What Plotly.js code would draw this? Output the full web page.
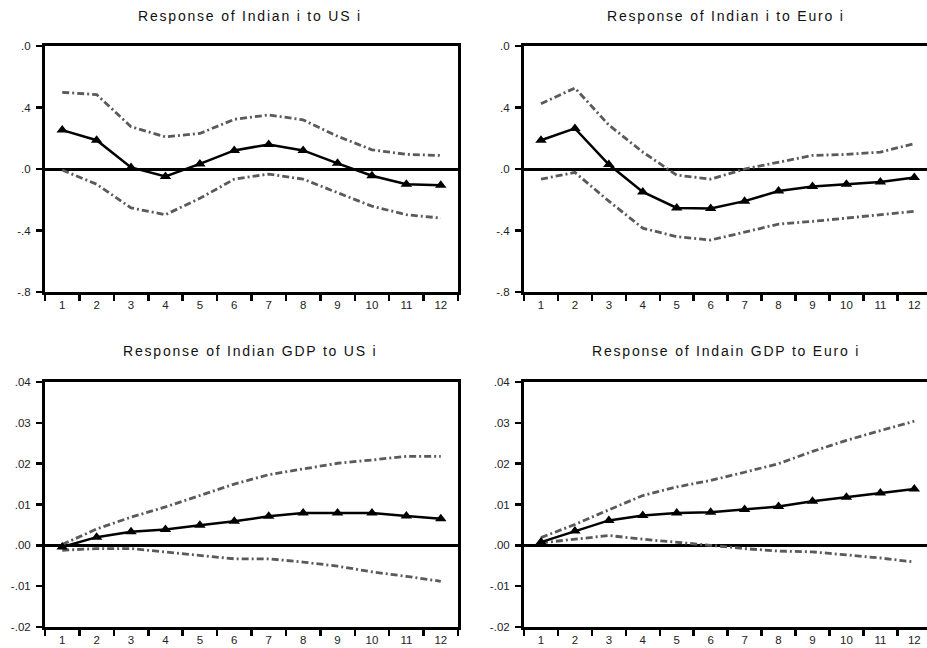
<!DOCTYPE html>
<html>
<head>
<meta charset="utf-8">
<script src="https://cdn.plot.ly/plotly-3.0.1.min.js"></script>
<style>html,body{margin:0;padding:0;background:#fff;}#chart{width:927px;height:648px;}</style>
</head>
<body>
<div id="chart"></div>
<script>
// Periods
const periods = ['1','2','3','4','5','6','7','8','9','10','11','12'];

// Response of Indian i to US i
const indI_US_resp  = [0.253, 0.187, 0.010, -0.048, 0.033, 0.121, 0.160, 0.121, 0.037, -0.044, -0.099, -0.105];
const indI_US_upper = [0.499, 0.484, 0.275, 0.209, 0.231, 0.323, 0.352, 0.319, 0.213, 0.125, 0.095, 0.088];
const indI_US_lower = [-0.007, -0.099, -0.253, -0.297, -0.191, -0.066, -0.033, -0.066, -0.154, -0.242, -0.297, -0.319];

// Response of Indian i to Euro i
const indI_EU_resp  = [0.187, 0.264, 0.029, -0.149, -0.253, -0.257, -0.209, -0.143, -0.114, -0.099, -0.084, -0.055];
const indI_EU_upper = [0.424, 0.527, 0.286, 0.110, -0.040, -0.066, 0.000, 0.044, 0.088, 0.095, 0.110, 0.165];
const indI_EU_lower = [-0.066, -0.022, -0.209, -0.385, -0.440, -0.462, -0.411, -0.358, -0.341, -0.319, -0.297, -0.275];

// Response of Indian GDP to US i
const gdp_US_resp  = [-0.0004, 0.0020, 0.0033, 0.0039, 0.0049, 0.0059, 0.0071, 0.0079, 0.0079, 0.0079, 0.0072, 0.0065];
const gdp_US_upper = [0.0002, 0.0040, 0.0069, 0.0094, 0.0122, 0.0150, 0.0173, 0.0187, 0.0201, 0.0209, 0.0218, 0.0218];
const gdp_US_lower = [-0.0012, -0.0008, -0.0008, -0.0016, -0.0024, -0.0033, -0.0033, -0.0041, -0.0051, -0.0065, -0.0076, -0.0088];

// Response of Indain GDP to Euro i
const gdp_EU_resp  = [0.0008, 0.0035, 0.0061, 0.0073, 0.0079, 0.0081, 0.0088, 0.0095, 0.0108, 0.0118, 0.0128, 0.0138];
const gdp_EU_upper = [0.0019, 0.0051, 0.0087, 0.0122, 0.0143, 0.0159, 0.0179, 0.0200, 0.0230, 0.0257, 0.0281, 0.0304];
const gdp_EU_lower = [0.0006, 0.0015, 0.0024, 0.0015, 0.0008, 0.0000, -0.0008, -0.0014, -0.0016, -0.0024, -0.0031, -0.0041];

// Titles and tick labels
const titles = ['Response of Indian i to US i', 'Response of Indian i to Euro i',
                'Response of Indian GDP to US i', 'Response of Indain GDP to Euro i'];
const rateTickVals = [-0.8, -0.4, 0, 0.4, 0.8];
const rateTickText = ['-.8', '-.4', '.0', '.4', '.0'];
const gdpTickVals = [-0.02, -0.01, 0, 0.01, 0.02, 0.03, 0.04];
const gdpTickText = ['-.02', '-.01', '.00', '.01', '.02', '.03', '.04'];

const W = 927, H = 648;
const boundColor = '#5a5a5a';
const boundDash = '7px,3px,2px,3px';

function band(xa, ya, resp, up, lo) {
  const base = {x: periods, xaxis: xa, yaxis: ya, type: 'scatter', hoverinfo: 'skip', showlegend: false};
  return [
    Object.assign({}, base, {y: up, mode: 'lines', line: {color: boundColor, width: 2.8, dash: boundDash}}),
    Object.assign({}, base, {y: lo, mode: 'lines', line: {color: boundColor, width: 2.8, dash: boundDash}}),
    Object.assign({}, base, {y: resp, mode: 'lines+markers', line: {color: '#000', width: 2.5},
      marker: {symbol: 'triangle-up', size: 10, color: '#000'}})
  ];
}

const data = [].concat(
  band('x', 'y', indI_US_resp, indI_US_upper, indI_US_lower),
  band('x2', 'y2', indI_EU_resp, indI_EU_upper, indI_EU_lower),
  band('x3', 'y3', gdp_US_resp, gdp_US_upper, gdp_US_lower),
  band('x4', 'y4', gdp_EU_resp, gdp_EU_upper, gdp_EU_lower)
);

const tickFont = {family: 'Liberation Sans, Arial, sans-serif', size: 11.5, color: '#222'};

function xax(l, r, maxRange, anchor, mirror) {
  return {
    type: 'category', domain: [l / W, r / W], range: [-0.5, maxRange], anchor: anchor,
    tickson: 'boundaries', ticks: 'outside', ticklen: 6, tickwidth: 2.5, tickcolor: '#000',
    showline: true, linecolor: '#000', linewidth: 3, mirror: mirror,
    showgrid: false, zeroline: false, tickfont: tickFont, fixedrange: true
  };
}
function yax(top, bot, range, tv, tt, anchor, mirror) {
  return {
    domain: [1 - bot / H, 1 - top / H], range: range, anchor: anchor,
    tickmode: 'array', tickvals: tv, ticktext: tt,
    ticks: 'outside', ticklen: 6, tickwidth: 2.5, tickcolor: '#000',
    showline: true, linecolor: '#000', linewidth: 3, mirror: mirror,
    showgrid: false, zeroline: true, zerolinecolor: '#000', zerolinewidth: 3,
    tickfont: tickFont, ticklabelstandoff: 3, fixedrange: true
  };
}

const rightMax = -0.5 + (W - 524) / 33.94;

const titleFont = {family: 'Liberation Sans, Arial, sans-serif', size: 14, color: '#111'};
function ann(text, cx, cy) {
  return {text: '<span style="letter-spacing:1.8px">' + text + '</span>', xref: 'paper', yref: 'paper', x: cx / W, y: 1 - cy / H,
          xanchor: 'center', yanchor: 'middle', showarrow: false, font: titleFont};
}

const layout = {
  width: W, height: H,
  margin: {l: 0, r: 0, t: 0, b: 0},
  paper_bgcolor: '#fff', plot_bgcolor: '#fff',
  showlegend: false,
  xaxis:  xax(45, 458, 11.5, 'y', true),
  yaxis:  yax(46, 292, [-0.8, 0.8], rateTickVals, rateTickText, 'x', true),
  xaxis2: xax(524, 927, rightMax, 'y2', true),
  yaxis2: yax(46, 292, [-0.8, 0.8], rateTickVals, rateTickText, 'x2', false),
  xaxis3: xax(45, 458, 11.5, 'y3', true),
  yaxis3: yax(382, 627, [-0.02, 0.04], gdpTickVals, gdpTickText, 'x3', true),
  xaxis4: xax(524, 927, rightMax, 'y4', true),
  yaxis4: yax(382, 627, [-0.02, 0.04], gdpTickVals, gdpTickText, 'x4', false),
  annotations: [
    ann(titles[0], 250, 16),
    ann(titles[1], 726, 16),
    ann(titles[2], 250, 351),
    ann(titles[3], 726, 351)
  ]
};

Plotly.newPlot('chart', data, layout, {staticPlot: true, displayModeBar: false});
</script>
</body>
</html>
